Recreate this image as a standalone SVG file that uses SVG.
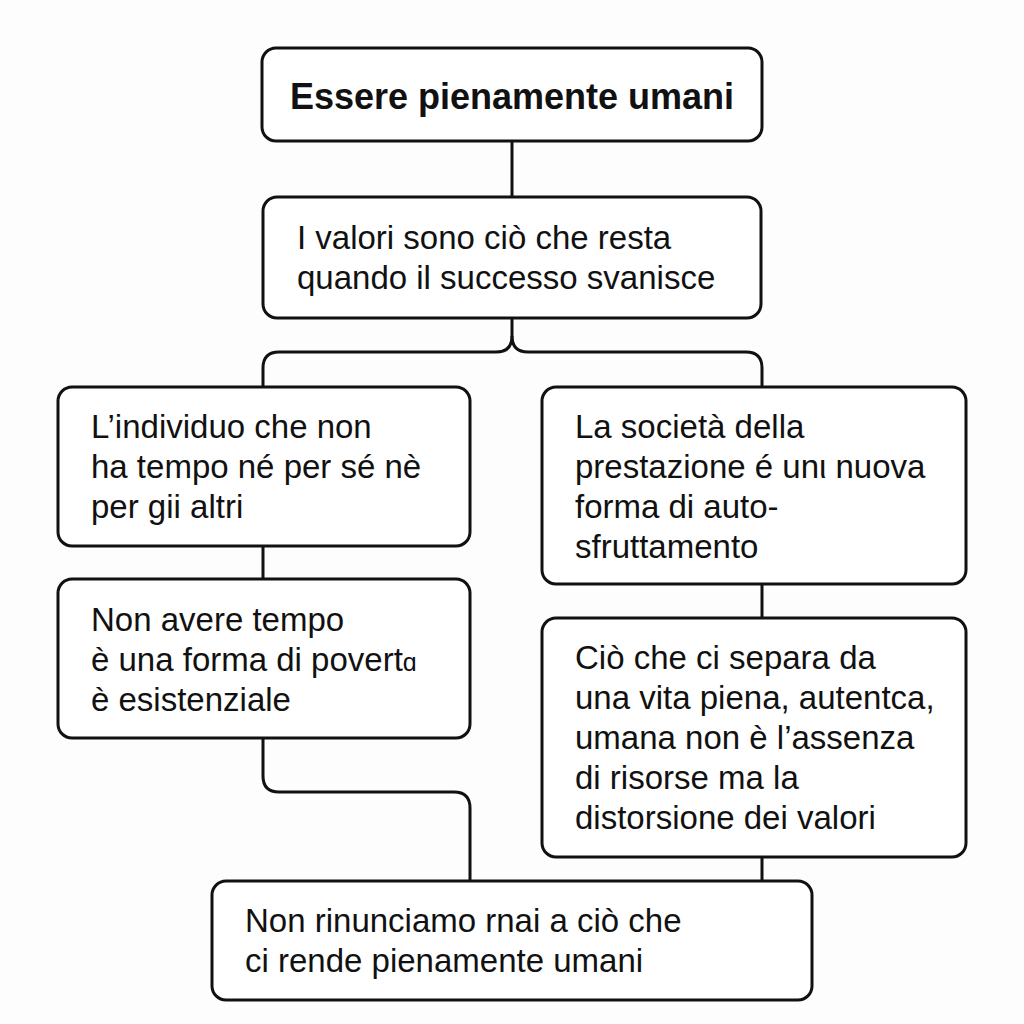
<svg xmlns="http://www.w3.org/2000/svg" width="1024" height="1024" viewBox="0 0 1024 1024">
<style>
.box{fill:#fff;stroke:#111;stroke-width:3}
.t{font-family:"Liberation Sans",Arial,sans-serif;font-size:33px;fill:#111}
.h{font-family:"Liberation Sans",Arial,sans-serif;font-size:36px;font-weight:bold;fill:#111}
.c{fill:none;stroke:#111;stroke-width:3}
</style>
<rect width="1024" height="1024" fill="#fdfdfd"/>
<g id="connectors">
<path class="c" d="M512 141V197"/>
<path class="c" d="M512 318V336Q512 352 496 352H279Q263 352 263 368V387"/>
<path class="c" d="M512 336Q512 352 528 352H746Q762 352 762 368V387"/>
<path class="c" d="M263 546V579"/>
<path class="c" d="M762 584V618"/>
<path class="c" d="M263 738V776Q263 792 279 792H454Q470 792 470 808V881"/>
<path class="c" d="M762 857V881"/>
</g>
<g id="n1"><rect class="box" x="262" y="48" width="500" height="93" rx="14"/>
<text class="h" x="512" y="109" text-anchor="middle">Essere pienamente umani</text></g>
<g id="n2"><rect class="box" x="263" y="197" width="498" height="121" rx="14"/>
<text class="t" x="297" y="249">I valori sono ciò che resta</text>
<text class="t" x="297" y="289">quando il successo svanisce</text></g>
<g id="n3"><rect class="box" x="58" y="387" width="412" height="159" rx="14"/>
<text class="t" x="91" y="438">L’individuo che non</text>
<text class="t" x="91" y="478">ha tempo né per sé nè</text>
<text class="t" x="91" y="518">per gii altri</text></g>
<g id="n4"><rect class="box" x="542" y="387" width="424" height="197" rx="14"/>
<text class="t" x="575" y="438">La società della</text>
<text class="t" x="575" y="478">prestazione é unι nuova</text>
<text class="t" x="575" y="518">forma di auto-</text>
<text class="t" x="575" y="558">sfruttamento</text></g>
<g id="n5"><rect class="box" x="58" y="579" width="412" height="159" rx="14"/>
<text class="t" x="91" y="631">Non avere tempo</text>
<text class="t" x="91" y="671">è una forma di povert<tspan font-size="25">ɑ</tspan></text>
<text class="t" x="91" y="711">è esistenziale</text></g>
<g id="n6"><rect class="box" x="542" y="618" width="424" height="239" rx="14"/>
<text class="t" x="575" y="669">Ciò che ci separa da</text>
<text class="t" x="575" y="709">una vita piena, autentca,</text>
<text class="t" x="575" y="749">umana non è l’assenza</text>
<text class="t" x="575" y="789">di risorse ma la</text>
<text class="t" x="575" y="829">distorsione dei valori</text></g>
<g id="n7"><rect class="box" x="212" y="881" width="600" height="119" rx="14"/>
<text class="t" x="245" y="932">Non rinunciamo rnai a ciò che</text>
<text class="t" x="245" y="972">ci rende pienamente umani</text></g>
</svg>
